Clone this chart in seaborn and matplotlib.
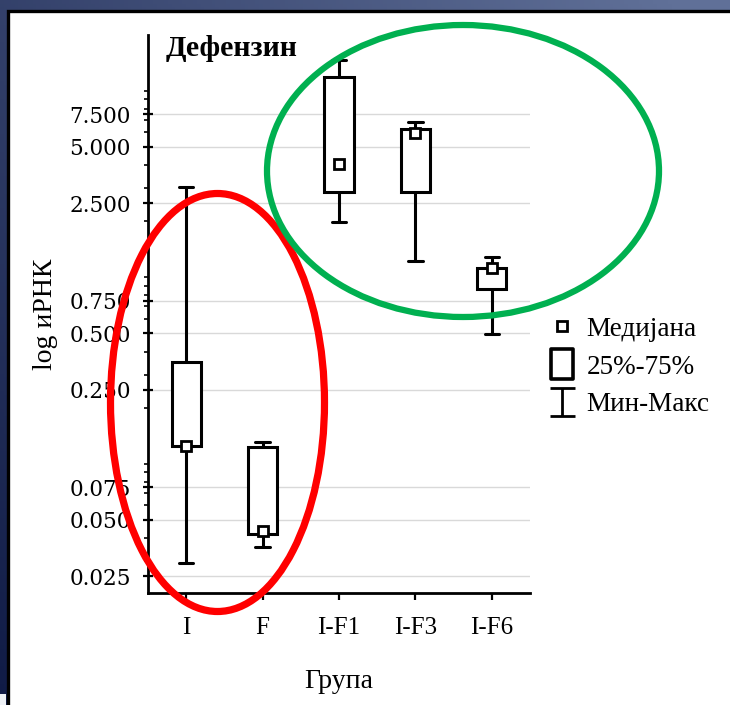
import numpy as np
import pandas as pd
import matplotlib
matplotlib.use("Agg")
import matplotlib.pyplot as plt
import matplotlib.ticker as mticker
from matplotlib.lines import Line2D
from matplotlib.patches import Ellipse, Rectangle
from matplotlib.path import Path
import seaborn as sns

# Five-number summaries of defensin mRNA per group
groups = ["I", "F", "I-F1", "I-F3", "I-F6"]
mins = [0.0294, 0.0357, 1.97, 1.22, 0.496]
q1s = [0.124, 0.042, 2.85, 2.85, 0.864]
medians = [0.125, 0.0435, 4.05, 5.91, 1.12]
q3s = [0.351, 0.123, 11.8, 6.23, 1.12]
maxs = [3.05, 0.131, 14.6, 6.79, 1.28]

y_ticks = [0.025, 0.05, 0.075, 0.25, 0.5, 0.75, 2.5, 5.0, 7.5]

title = "Дефензин"
x_label = "Група"
y_label = "log иРНК"
legend_labels = ["Медијана", "25%-75%", "Мин-Макс"]

sns.set_theme(style="white")
plt.rcParams["font.family"] = ["Liberation Serif", "DejaVu Serif"]
plt.rcParams["text.color"] = "black"
plt.rcParams["axes.labelcolor"] = "black"

W, H = 730, 705
fig = plt.figure(figsize=(W / 100, H / 100), dpi=100)

# slide-like background with a gradient frame
bg = fig.add_axes([0, 0, 1, 1], zorder=-10)
bg.set_xlim(0, W)
bg.set_ylim(H, 0)
bg.axis("off")
xx, yy = np.meshgrid(np.linspace(0, 1, 200), np.linspace(0, 1, 200))
t = np.clip(0.6 * xx + 0.45 * (1 - yy), 0, 1)
c0 = np.array([0x10, 0x1b, 0x46]) / 255
c1 = np.array([0x60, 0x70, 0x98]) / 255
grad = c0[None, None, :] * (1 - t[..., None]) + c1[None, None, :] * t[..., None]
bg.imshow(grad, extent=(0, W, H, 0), aspect="auto", zorder=0)
bg.add_patch(Rectangle((7.5, 10.5), W, H, facecolor="white",
                       edgecolor="black", linewidth=2.4, zorder=1))
bg.add_patch(Rectangle((0, 694), 6, 12, facecolor="#eef1f6",
                       edgecolor="none", zorder=1))

# long-form table: one row per summary statistic
rows = []
for g, a, b, m, c, d in zip(groups, mins, q1s, medians, q3s, maxs):
    for v in (a, b, m, c, d):
        rows.append({"Група": g, "value": v})
df = pd.DataFrame(rows)
med_df = pd.DataFrame({"Група": groups, "value": medians})

ax = fig.add_axes([148 / W, 1 - 593 / H, 382 / W, 558 / H])
ax.set_facecolor("none")

sns.boxplot(
    data=df, x="Група", y="value", order=groups, ax=ax,
    whis=(0, 100), width=0.38, color="white", linecolor="black",
    linewidth=2.2, saturation=1, log_scale=True,
    medianprops=dict(visible=False), showfliers=False,
)
sns.pointplot(
    data=med_df, x="Група", y="value", order=groups, ax=ax,
    linestyle="none", markers="s", errorbar=None, color="black",
    markersize=7, markeredgewidth=2, markerfacecolor="white",
    log_scale=True,
)
for ln in ax.lines[-len(groups):]:
    ln.set_zorder(6)
ax.lines[-1].set_markerfacecolor("white")

ax.set_xlim(-0.5, 4.5)
ax.set_ylim(0.0203, 19.9)
ax.yaxis.set_major_locator(mticker.FixedLocator(y_ticks))
ax.yaxis.set_major_formatter(mticker.FuncFormatter(lambda v, p: f"{v:.3f}"))
ax.yaxis.set_minor_locator(mticker.LogLocator(base=10, subs=np.arange(1, 10), numticks=20))
ax.yaxis.set_minor_formatter(mticker.NullFormatter())
ax.grid(axis="y", which="major", color="#d9d9d9", linewidth=1.0)
ax.set_axisbelow(True)

for side in ("top", "right"):
    ax.spines[side].set_visible(False)
for side in ("left", "bottom"):
    ax.spines[side].set_color("black")
    ax.spines[side].set_linewidth(2.0)

ax.tick_params(axis="y", which="major", direction="inout", length=7, width=1.6,
               pad=9, labelsize=15.5, colors="black", left=True)
ax.tick_params(axis="y", which="minor", direction="out", length=3, width=1.2,
               colors="black", left=True)
ax.tick_params(axis="x", which="major", direction="out", length=5, width=1.6,
               pad=12, labelsize=18, colors="black", bottom=True)
for lab in ax.get_yticklabels():
    lab.set_fontfamily("DejaVu Serif")

ax.set_xlabel(x_label, fontsize=20, labelpad=22, color="black")
ax.set_ylabel(y_label, fontsize=20, labelpad=8, color="black")
ax.text(0.045, 1.0, title, transform=ax.transAxes, va="top", ha="left",
        fontsize=21.5, fontweight="bold", color="black")

# legend glyphs
box_marker = Path([(-0.35, -0.5), (0.35, -0.5), (0.35, 0.5), (-0.35, 0.5), (-0.35, -0.5)],
                  [Path.MOVETO, Path.LINETO, Path.LINETO, Path.LINETO, Path.CLOSEPOLY])
whisk_marker = Path([(-0.45, -0.5), (0.45, -0.5), (0, -0.5), (0, 0.5), (-0.45, 0.5), (0.45, 0.5)],
                    [Path.MOVETO, Path.LINETO, Path.MOVETO, Path.LINETO, Path.MOVETO, Path.LINETO])
handles = [
    Line2D([], [], linestyle="none", marker="s", markersize=7, markeredgewidth=2,
           markerfacecolor="white", markeredgecolor="black"),
    Line2D([], [], linestyle="none", marker=box_marker, markersize=22, markeredgewidth=2.6,
           markerfacecolor="white", markeredgecolor="black"),
    Line2D([], [], linestyle="none", marker=whisk_marker, markersize=20, markeredgewidth=2,
           markerfacecolor="none", markeredgecolor="black"),
]
leg = fig.legend(handles, legend_labels, loc="upper left",
                 bbox_to_anchor=(535 / W, 1 - 306 / H), frameon=False, fontsize=19.5,
                 handlelength=1.2, handletextpad=0.3, labelspacing=0.47, borderaxespad=0)
for txt in leg.get_texts():
    txt.set_color("black")

# highlighted groups
ov = fig.add_axes([0, 0, 1, 1], zorder=10)
ov.set_xlim(0, W)
ov.set_ylim(H, 0)
ov.axis("off")
ov.patch.set_visible(False)
ov.add_patch(Ellipse((217.5, 402.5), 214, 418, fill=False, edgecolor="#ff0000", linewidth=5.2))
ov.add_patch(Ellipse((463, 171), 392, 292, fill=False, edgecolor="#00b050", linewidth=4.5))

fig.savefig("out.png", dpi=100)
